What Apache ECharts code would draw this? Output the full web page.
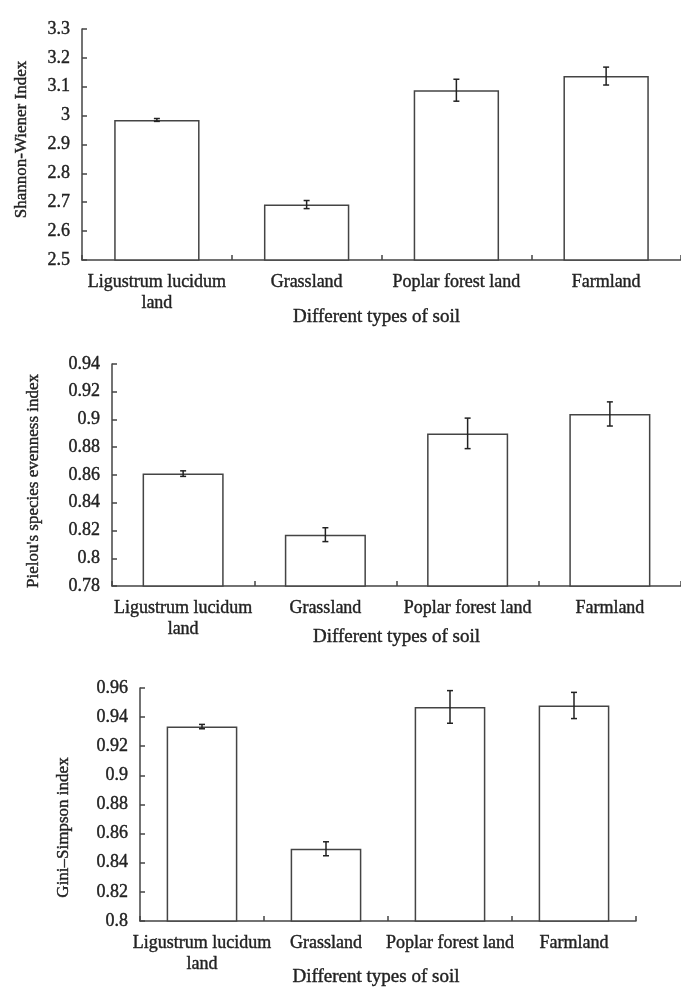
<!DOCTYPE html>
<html>
<head>
<meta charset="utf-8">
<script src="https://cdn.jsdelivr.net/npm/echarts@6/dist/echarts.min.js"></script>
<style>
  html, body { margin: 0; padding: 0; background: #fff; }
  #chart { width: 681px; height: 992px; }
</style>
</head>
<body>
<div id="chart"></div>
<script>
const categories = ["Ligustrum lucidum\nland", "Grassland", "Poplar forest land", "Farmland"];

const shannon = [2.985, 2.692, 3.088, 3.137];
const shannonErr = [0.005, 0.014, 0.038, 0.031];

const pielou = [0.861, 0.817, 0.890, 0.904];
const pielouErr = [0.002, 0.005, 0.011, 0.0087];

const gini = [0.9335, 0.8496, 0.947, 0.948];
const giniErr = [0.0015, 0.0048, 0.0112, 0.009];

const yNames = ["Shannon-Wiener Index", "Pielou's species evenness index", "Gini\u2013Simpson index"];
const xName = "Different types of soil";

const font = "Liberation Serif";
const ink = "#222";
const line = "#444";

// slightly heavier text, like the scanned figure
function txt(size, extra) {
  return Object.assign({
    fontFamily: font, fontSize: size, color: ink,
    textBorderColor: ink, textBorderWidth: 0.4
  }, extra || {});
}

// error bar drawn through the axes coords
function errorBar(params, api) {
  const i = api.value(0);
  const lo = api.coord([i, api.value(1)]);
  const hi = api.coord([i, api.value(2)]);
  const w = 3;
  const style = {stroke: ink, lineWidth: 1.5};
  return {
    type: "group",
    children: [
      {type: "line", shape: {x1: lo[0], y1: lo[1], x2: hi[0], y2: hi[1]}, style: style},
      {type: "line", shape: {x1: hi[0] - w, y1: hi[1], x2: hi[0] + w, y2: hi[1]}, style: style},
      {type: "line", shape: {x1: lo[0] - w, y1: lo[1], x2: lo[0] + w, y2: lo[1]}, style: style}
    ]
  };
}

function errData(vals, errs) {
  return vals.map((v, i) => [i, v - errs[i], v + errs[i]]);
}

const grids = [
  {left: 82, top: 29, width: 604, height: 231},
  {left: 112, top: 364, width: 578, height: 222},
  {left: 140, top: 688, width: 496, height: 233}
];

const yRanges = [
  {min: 2.5, max: 3.3, interval: 0.1, nameGap: 52, pad: [0, 0, 0, 10]},
  {min: 0.78, max: 0.94, interval: 0.02, nameGap: 70, pad: [0, 12, 0, 0]},
  {min: 0.8, max: 0.96, interval: 0.02, nameGap: 68, pad: [0, 46, 0, 0]}
];
const xNameGaps = [48, 42, 47];
const xNamePads = [[0, 10, 0, 0], [0, 0, 0, 0], [0, 24, 0, 0]];

const xAxes = grids.map((g, k) => ({
  type: "category",
  gridIndex: k,
  data: categories,
  name: xName,
  nameLocation: "middle",
  nameGap: xNameGaps[k],
  nameMoveOverlap: false,
  nameTextStyle: txt(19, {padding: xNamePads[k]}),
  axisLine: {lineStyle: {color: line, width: 1.5}},
  axisTick: {show: true, inside: true, length: 5, lineStyle: {color: line, width: 1.5}},
  axisLabel: txt(18, {margin: 12, lineHeight: 21, interval: 0})
}));

const yAxes = yRanges.map((r, k) => ({
  type: "value",
  gridIndex: k,
  min: r.min,
  max: r.max,
  interval: r.interval,
  name: yNames[k],
  nameLocation: "middle",
  nameGap: r.nameGap,
  nameMoveOverlap: false,
  nameTextStyle: txt(17, {padding: r.pad}),
  axisLine: {show: true, lineStyle: {color: line, width: 1.5}},
  axisTick: {show: true, inside: true, length: 5, lineStyle: {color: line, width: 1.5}},
  axisLabel: txt(18, {margin: 12}),
  splitLine: {show: false}
}));

const sets = [[shannon, shannonErr], [pielou, pielouErr], [gini, giniErr]];
const series = [];
sets.forEach(([vals, errs], k) => {
  series.push({
    type: "bar",
    xAxisIndex: k,
    yAxisIndex: k,
    data: vals,
    barWidth: "57%",
    itemStyle: {color: "#fff", borderColor: line, borderWidth: 1.5},
    silent: true
  });
  series.push({
    type: "custom",
    xAxisIndex: k,
    yAxisIndex: k,
    data: errData(vals, errs),
    renderItem: errorBar,
    z: 10,
    silent: true
  });
});

const chart = echarts.init(document.getElementById("chart"));
chart.setOption({
  backgroundColor: "#fff",
  animation: false,
  grid: grids,
  xAxis: xAxes,
  yAxis: yAxes,
  series: series
});
</script>
</body>
</html>
